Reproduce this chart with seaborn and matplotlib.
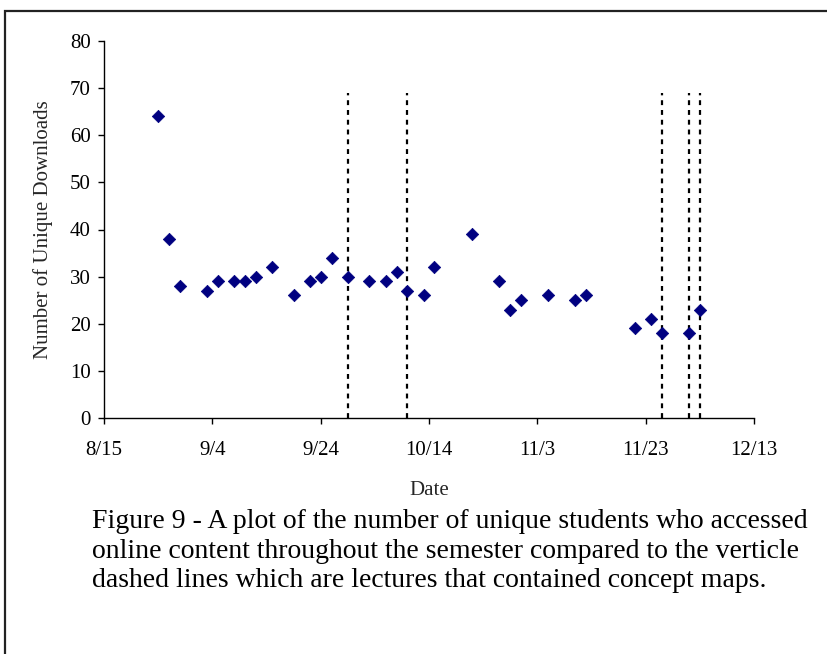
import matplotlib
matplotlib.use("Agg")
import matplotlib.pyplot as plt
import matplotlib.dates as mdates
import matplotlib.patches as mpatches
import pandas as pd
import seaborn as sns

# Unique downloads per day over the fall semester
dates = ["8/25", "8/27", "8/29", "9/3", "9/5", "9/8", "9/10", "9/12", "9/15",
         "9/19", "9/22", "9/24", "9/26", "9/29", "10/3", "10/6", "10/8",
         "10/10", "10/13", "10/15", "10/22", "10/27", "10/29", "10/31",
         "11/5", "11/10", "11/12", "11/21", "11/24", "11/26", "12/1", "12/3"]
downloads = [64, 38, 28, 27, 29, 29, 29, 30, 32,
             26, 29, 30, 34, 30, 29, 29, 31,
             27, 26, 32, 39, 29, 23, 25,
             26, 25, 26, 19, 21, 18, 18, 23]

# Lectures that contained concept maps
concept_map_lectures = ["9/29", "10/10", "11/26", "12/1", "12/3"]
line_top = 69

x_start, x_end = "8/15", "12/13"
y_ticks = [0, 10, 20, 30, 40, 50, 60, 70, 80]

caption_lines = [
    "Figure 9 - A plot of the number of unique students who accessed",
    "online content throughout the semester compared to the verticle",
    "dashed lines which are lectures that contained concept maps.",
]

YEAR = 2004


def to_date(s):
    return pd.to_datetime(f"{YEAR}/{s}", format="%Y/%m/%d")


df = pd.DataFrame({"Date": [to_date(d) for d in dates],
                   "Downloads": downloads})

sns.set_style("ticks")
plt.rcParams["font.family"] = ["Liberation Serif", "DejaVu Serif"]

fig = plt.figure(figsize=(8.28, 6.54), dpi=100)
ax = fig.add_axes([104 / 828, 1 - 418 / 654, 650 / 828, 377 / 654])

for d in concept_map_lectures:
    ax.plot([to_date(d), to_date(d)], [0, line_top], color="black",
            lw=1.6, linestyle=(0, (2.2, 2.2)), zorder=1)

sns.scatterplot(data=df, x="Date", y="Downloads", ax=ax, marker="D",
                s=40, color="#000080", edgecolor="#000080", linewidth=0.5,
                zorder=3)

x0, x1 = to_date(x_start), to_date(x_end)
ax.set_xlim(x0, x1)
ax.set_xticks(pd.date_range(x0, x1, freq="20D"))
ax.xaxis.set_major_formatter(
    matplotlib.ticker.FuncFormatter(
        lambda v, p: f"{mdates.num2date(v).month}/{mdates.num2date(v).day}"))
ax.set_ylim(0, 80)
ax.set_yticks(y_ticks)

for side in ("top", "right"):
    ax.spines[side].set_visible(False)
for side in ("left", "bottom"):
    ax.spines[side].set_color("black")
    ax.spines[side].set_linewidth(1.0)

ax.tick_params(axis="both", direction="out", length=4.5, width=1.0,
               color="black", labelsize=15, labelcolor="black")
ax.tick_params(axis="x", pad=12)
ax.tick_params(axis="y", pad=5)

ax.set_xlabel("Date", fontsize=15)
ax.set_ylabel("Number of Unique Downloads", fontsize=15, labelpad=12)
ax.xaxis.set_label_coords(0.5, -0.168)

# Caption under the plot
for i, line in enumerate(caption_lines):
    fig.text(92 / 828, 1 - (528 + 29.5 * i) / 654, line,
             fontsize=20, ha="left", va="baseline", color="black")

# Outer frame around the figure and caption
frame = mpatches.Rectangle((5 / 828, -0.2), 1.2, 1.2 + (1 - 11 / 654) - 1.0,
                           transform=fig.transFigure, fill=False,
                           edgecolor="#222222", linewidth=1.6)
fig.add_artist(frame)

fig.savefig("out.png", dpi=100, facecolor="white")
